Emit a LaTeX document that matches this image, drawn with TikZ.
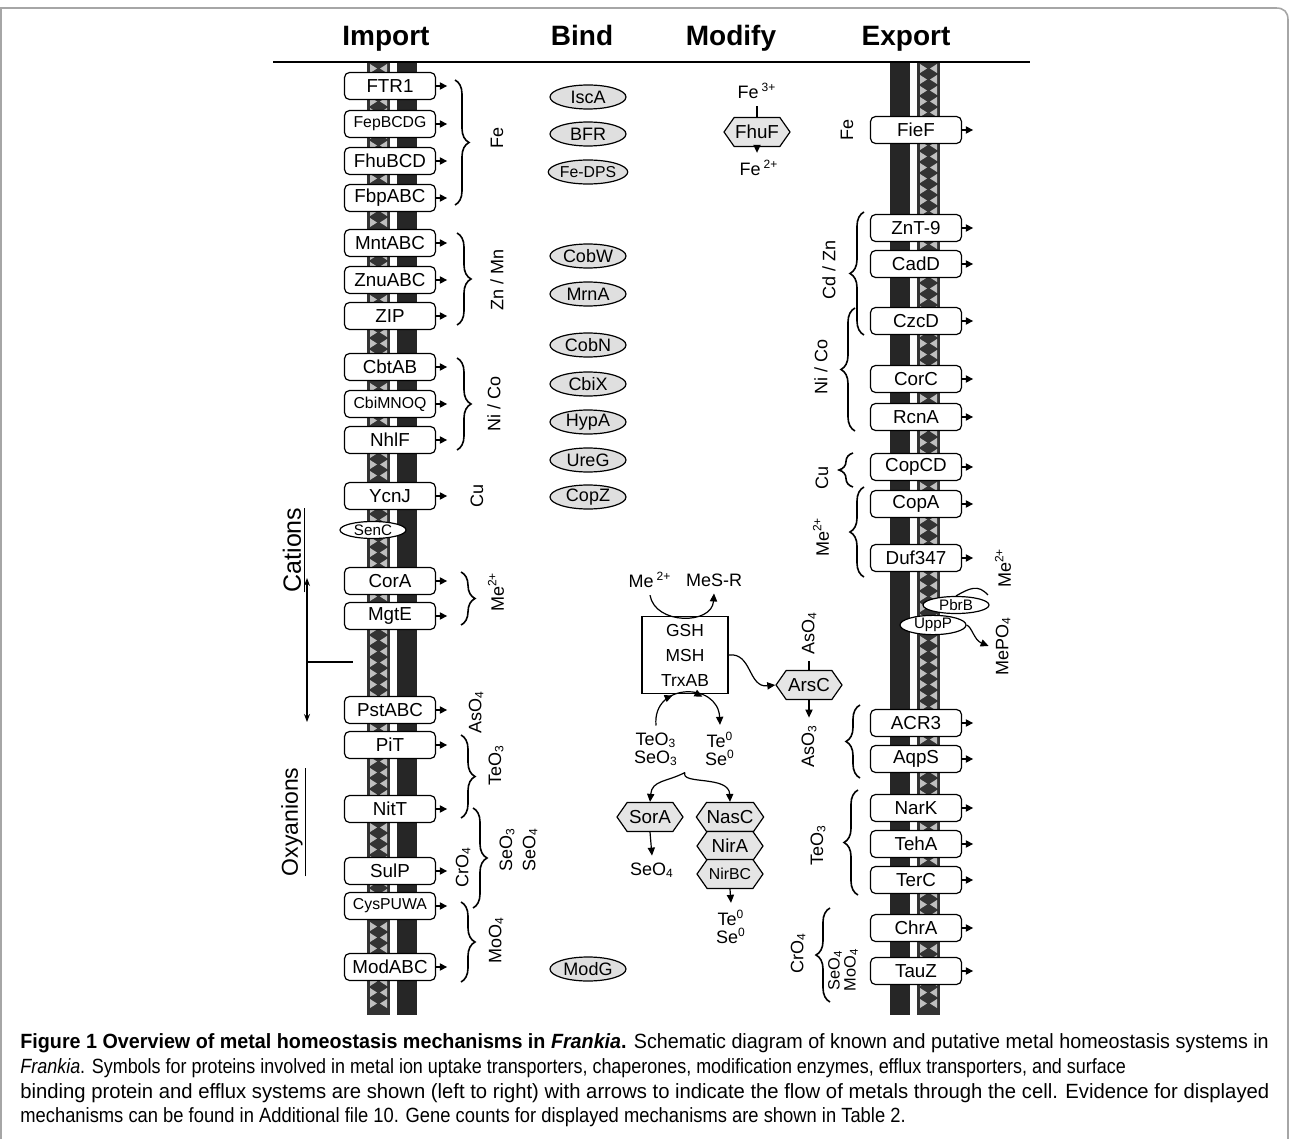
\documentclass[tikz,border=0pt]{standalone}
\usepackage{fontspec}
\setmainfont{Liberation Sans}
\newfontfamily\capfont[FakeStretch=0.95]{Liberation Sans}
\usepackage{tikz}
\usetikzlibrary{positioning}
\usetikzlibrary{arrows.meta}
\usetikzlibrary{shapes.geometric,shapes.symbols}
\usetikzlibrary{decorations.pathreplacing,decorations.markings}

\begin{document}
\begin{tikzpicture}[
		x=0.5pt, y=-0.5pt,
		every node/.style={font=\fontsize{9}{10.8}\selectfont},
		head/.style={anchor=base, font=\fontsize{14}{16}\selectfont\bfseries},
		port/.style={draw, rounded corners=2.5pt, fill=white, line width=0.6pt, minimum width=45.5pt, minimum height=13.5pt, inner sep=0pt, font=\fontsize{9.4}{11}\selectfont},
		minor/.style={font=\fontsize{7.9}{9}\selectfont},
		chap/.style={ellipse, draw, fill=gray!25, line width=0.6pt, minimum width=38pt, minimum height=12pt, inner sep=0pt},
		surf/.style={ellipse, draw, fill=white, line width=0.6pt, minimum width=33pt, minimum height=8.5pt, inner sep=0pt, font=\fontsize{7.6}{8}\selectfont},
		enz/.style={signal, signal to=west and east, signal pointer angle=110, draw, fill=gray!20, line width=0.6pt, minimum width=33pt, minimum height=14.5pt, inner sep=0pt, font=\fontsize{9.4}{11}\selectfont},
		tick/.style={-{Triangle[length=3.6pt,width=3.6pt]}, line width=0.6pt},
		flow/.style={-{Triangle[length=4pt,width=3.6pt]}, line width=0.6pt},
		brc/.style={decorate, decoration={brace, amplitude=7pt}, line width=0.8pt},
		ion/.style={rotate=90},
		capline/.style={anchor=base west, inner sep=0pt, font=\capfont\fontsize{10.3}{12}\selectfont}
		]
		\useasboundingbox (0,0) rectangle (1290,1139);
		% frame
		\draw[gray!70, line width=0.8pt] (1,1150) -- (1,8) -- (1276,8) .. controls (1284,8) and (1288,12) .. (1288,20) -- (1288,1150);
		
		% membranes
		\fill[black!85] (397,62) rectangle (417,1015);
		\fill[black!85] (890,62) rectangle (910,1015);
		\fill[black!80] (367,62) rectangle (390,1015);
		\fill[black!80] (917,62) rectangle (940,1015);
		\foreach \k in {0,...,85}{
			\foreach \xa/\xb in {367/390, 917/940}{
				\fill[gray!50] (\xa+3,64+11*\k) -- (\xa+3,73+11*\k) -- (\xa+10,68.5+11*\k) -- cycle;
				\fill[gray!50] (\xb-3,64+11*\k) -- (\xb-3,73+11*\k) -- (\xb-10,68.5+11*\k) -- cycle;
			}
		}
		\draw[line width=1.2pt] (273,62) -- (1030,62);
		
		% headers
		\node[head] (imp) at (386,46) {Import};
		\node[head] (bnd) at (582,46) {Bind};
		\node[head] (mdf) at (731,46) {Modify};
		\node[head] (exp) at (906,46) {Export};
		
		% import
		\node[port] (ftr1) at (390,86) {FTR1};
		\node[port, minor] (fepbcdg) at (390,124) {FepBCDG};
		\node[port] (fhubcd) at (390,161) {FhuBCD};
		\node[port] (fbpabc) at (390,198) {FbpABC};
		\node[port] (mntabc) at (390,243) {MntABC};
		\node[port] (znuabc) at (390,280) {ZnuABC};
		\node[port] (zip) at (390,316) {ZIP};
		\node[port] (cbtab) at (390,367) {CbtAB};
		\node[port, minor] (cbimnoq) at (390,404) {CbiMNOQ};
		\node[port] (nhlf) at (390,440) {NhlF};
		\node[port] (ycnj) at (390,496) {YcnJ};
		\node[surf] (senc) at (373,530) {SenC};
		\node[port] (cora) at (390,581) {CorA};
		\node[port] (mgte) at (390,616) {MgtE};
		\node[port] (pstabc) at (390,710) {PstABC};
		\node[port] (pit) at (390,745) {PiT};
		\node[port] (nitt) at (390,809) {NitT};
		\node[port] (sulp) at (390,871) {SulP};
		\node[port, minor] (cyspuwa) at (390,906) {CysPUWA};
		\node[port] (modabc) at (390,967) {ModABC};
		
		% export
		\node[port] (fief) at (916,130) {FieF};
		\node[port] (znt9) at (916,228) {ZnT-9};
		\node[port] (cadd) at (916,264) {CadD};
		\node[port] (czcd) at (916,321) {CzcD};
		\node[port] (corc) at (916,379) {CorC};
		\node[port] (rcna) at (916,417) {RcnA};
		\node[port] (copcd) at (916,467) {CopCD};
		\node[port] (copa) at (916,504) {CopA};
		\node[port] (duf347) at (916,558) {Duf347};
		\node[port] (acr3) at (916,723) {ACR3};
		\node[port] (aqps) at (916,759) {AqpS};
		\node[port] (nark) at (916,808) {NarK};
		\node[port] (teha) at (916,844) {TehA};
		\node[port] (terc) at (916,880) {TerC};
		\node[port] (chra) at (916,928) {ChrA};
		\node[port] (tauz) at (916,971) {TauZ};
		
		\foreach \n in {ftr1,fepbcdg,fhubcd,fbpabc,mntabc,znuabc,zip,cbtab,cbimnoq,nhlf,ycnj,cora,mgte,pstabc,pit,nitt,sulp,cyspuwa,modabc,
			fief,znt9,cadd,czcd,corc,rcna,copcd,copa,duf347,acr3,aqps,nark,teha,terc,chra,tauz}
			\draw[tick] (\n.east) -- ++(11,0);
		
		% import braces and ions
		\draw[brc] (455,80) -- (455,205);
		\draw[brc] (457,233) -- (457,325);
		\draw[brc] (457,358) -- (457,450);
		\draw[brc] (461,572) -- (461,625);
		\draw[brc] (461,735) -- (461,818);
		\draw[brc] (473,808) -- (473,908);
		\draw[brc] (461,902) -- (461,982);
		\node[ion] (ife) at (497,138) {Fe};
		\node[ion] (izn) at (497,280) {Zn / Mn};
		\node[ion] (ini) at (494,404) {Ni / Co};
		\node[ion] (icu) at (477,496) {Cu};
		\node[ion] (ime) at (496,592) {Me\textsuperscript{2+}};
		\node[ion] (ias) at (476,712) {AsO\textsubscript{4}};
		\node[ion] (ite) at (496,765) {TeO\textsubscript{3}};
		\node[ion] (icr) at (463,867) {CrO\textsubscript{4}};
		\node[ion] (ise3) at (507,850) {SeO\textsubscript{3}};
		\node[ion] (ise4) at (530,850) {SeO\textsubscript{4}};
		\node[ion] (imo) at (496,940) {MoO\textsubscript{4}};
		
		% export braces and ions
		\draw[brc] (864,335) -- (864,212);
		\draw[brc] (855,431) -- (855,308);
		\draw[brc] (853,487) -- (853,453);
		\draw[brc] (864,577) -- (864,487);
		\draw[brc] (860,778) -- (860,705);
		\draw[brc] (858,895) -- (858,790);
		\draw[brc] (830,1002) -- (830,908);
		\node[ion] (efe) at (847,130) {Fe};
		\node[ion] (ecd) at (829,270) {Cd / Zn};
		\node[ion] (eni) at (821,367) {Ni / Co};
		\node[ion] (ecu) at (822,478) {Cu};
		\node[ion] (eme) at (821,537) {Me\textsuperscript{2+}};
		\node[ion] (ete) at (818,845) {TeO\textsubscript{3}};
		\node[ion] (ecr) at (798,953) {CrO\textsubscript{4}};
		\node[ion, font=\fontsize{8.2}{9}\selectfont] (ese) at (835,970) {SeO\textsubscript{4}};
		\node[ion, font=\fontsize{8.2}{9}\selectfont] (emo) at (851,970) {MoO\textsubscript{4}};
		
		% surface proteins
		\node[surf] (pbrb) at (956,605) {PbrB};
		\node[surf] (uppp) at (933,625) {UppP};
		\node[ion] (me2r) at (1003,568) {Me\textsuperscript{2+}};
		\node[ion] (mepo4) at (1003,646) {MePO\textsubscript{4}};
		\draw[line width=0.6pt] (me2r.north west) .. controls (978,584) and (970,588) .. (pbrb.north);
		\draw[flow] (uppp.east) .. controls (972,627) and (974,640) .. (mepo4.north);
		
		% cations / oxyanions
		\node[rotate=90, font=\fontsize{12.5}{14}\selectfont] (cat) at (294,550) {\underline{Cations}};
		\node[rotate=90, font=\fontsize{11.5}{13}\selectfont] (oxy) at (294,822) {\underline{Oxyanions}};
		\coordinate (up) at (307,578);
		\coordinate (dn) at (307,722);
		\coordinate (jn) at (307,662);
		\coordinate (mem) at (353,662);
		\draw[{Stealth[length=4pt,width=3pt]}-{Stealth[length=4pt,width=3pt]}, line width=0.6pt] (up) -- (dn);
		\draw[line width=0.6pt] (jn) -- (mem);
		
		% bind
		\node[chap] (isca) at (588,97) {IscA};
		\node[chap] (bfr) at (588,134) {BFR};
		\node[chap, minor] (fedps) at (588,172) {Fe-DPS};
		\node[chap] (cobw) at (588,256) {CobW};
		\node[chap] (mrna) at (588,294) {MrnA};
		\node[chap] (cobn) at (588,345) {CobN};
		\node[chap] (cbix) at (588,384) {CbiX};
		\node[chap] (hypa) at (588,422) {HypA};
		\node[chap] (ureg) at (588,460) {UreG};
		\node[chap] (copz) at (588,497) {CopZ};
		\node[chap] (modg) at (588,969) {ModG};
		
		% modify
		\node (fe3) at (757,91) {Fe\,\textsuperscript{3+}};
		\node[enz] (fhuf) at (757,132) {FhuF};
		\node (fe2) at (759,168) {Fe\,\textsuperscript{2+}};
		\draw[line width=0.6pt] (fe3.south -| fhuf) -- (fhuf.north);
		\draw[flow] (fhuf.south) -- (fhuf.south |- fe2.north);
		
		\node (me2) at (650,580) {Me\,\textsuperscript{2+}};
		\node (mesr) at (714,580) {MeS-R};
		\node[draw, line width=0.6pt, minimum width=43pt, minimum height=38.5pt, align=center, font=\fontsize{8.7}{12.5}\selectfont] (gsh) at (685,655) {GSH\\MSH\\TrxAB};
		\draw[flow] (me2.south) .. controls (655,625) and (712,625) .. (mesr.south);
		
		\node[enz] (arsc) at (809,685) {ArsC};
		\node[ion] (aso4) at (809,633) {AsO\textsubscript{4}};
		\node[ion] (aso3) at (809,746) {AsO\textsubscript{3}};
		\draw[flow] (gsh.east) .. controls (752,652) and (748,688) .. (arsc.west);
		\draw[line width=0.6pt] (arsc.north) -- (aso4.west);
		\draw[flow] (arsc.south) -- (aso3.east);
		
		\node (teo3) at (656,740) {TeO\textsubscript{3}};
		\node (seo3) at (656,758) {SeO\textsubscript{3}};
		\node (te0) at (720,740) {Te\textsuperscript{0}};
		\node (se0) at (720,758) {Se\textsuperscript{0}};
		\draw[flow, postaction={decorate}, decoration={markings,
			mark=at position 0.36 with {\arrow{Triangle[length=4pt,width=3.6pt]}},
			mark=at position 0.66 with {\arrow{Triangle[length=4pt,width=3.6pt]}}}]
			(teo3.north) .. controls (652,682) and (718,682) .. (te0.north);
		
		\node[enz] (sora) at (650,817) {SorA};
		\node[enz] (nasc) at (730,817) {NasC};
		\node[enz] (nira) at (730,846) {NirA};
		\node[enz, minor] (nirbc) at (730,874) {NirBC};
		\draw[flow] (seo3.south east) .. controls (667,782) and (652,780) .. (sora.north);
		\draw[flow] (seo3.south east) .. controls (680,785) and (729,775) .. (nasc.north);
		\node (seo4) at (652,870) {SeO\textsubscript{4}};
		\draw[flow] (sora.south) -- (seo4.north);
		\node (te0b) at (731,918) {Te\textsuperscript{0}};
		\node (se0b) at (731,936) {Se\textsuperscript{0}};
		\draw[flow] (nirbc.south) -- (te0b.north);
		
		% caption
		\node[capline] (cap1) at (20,1048) {\scalebox{1.008}[1]{\textbf{Figure 1 Overview of metal homeostasis mechanisms in \textit{Frankia}.} Schematic diagram of known and putative metal homeostasis systems in}};
		\node[capline] (cap2) at (20,1073) {\scalebox{0.917}[1]{\textit{Frankia}. Symbols for proteins involved in metal ion uptake transporters, chaperones, modification enzymes, efflux transporters, and surface}};
		\node[capline] (cap3) at (20,1098) {\scalebox{1.035}[1]{binding protein and efflux systems are shown (left to right) with arrows to indicate the flow of metals through the cell. Evidence for displayed}};
		\node[capline] (cap4) at (20,1122) {\scalebox{0.938}[1]{mechanisms can be found in Additional file 10. Gene counts for displayed mechanisms are shown in Table 2.}};
	\end{tikzpicture}
\end{document}
